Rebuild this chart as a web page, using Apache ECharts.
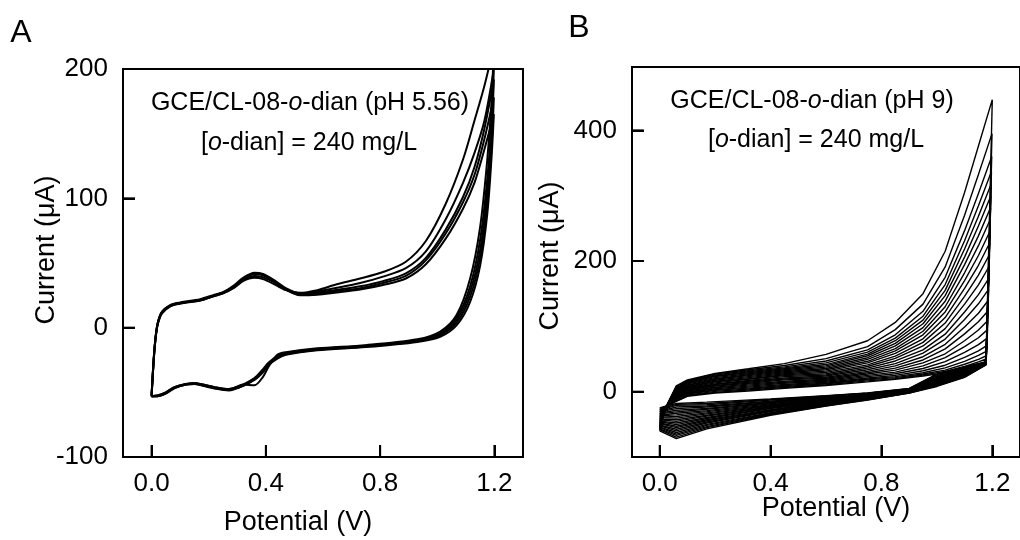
<!DOCTYPE html>
<html><head><meta charset="utf-8">
<script src="https://cdn.jsdelivr.net/npm/echarts@6/dist/echarts.min.js"></script>
<style>html,body{margin:0;padding:0;background:#fff}#c{width:1020px;height:540px}</style>
</head><body><div id="c"></div>
<script>
// ---------- shared tick values ----------
const xTicks = [0, 0.4, 0.8, 1.2];
const aYTicks = [-100, 0, 100, 200];
const bYTicks = [0, 200, 400];

// ---------- Panel A: pH 5.56, five repeated cycles (rows = cycles) ----------
const aFwdV = [0.000, 0.007, 0.013, 0.021, 0.036, 0.065, 0.10, 0.17, 0.22, 0.25, 0.29, 0.32, 0.36, 0.39, 0.43, 0.47, 0.52, 0.58, 0.64, 0.73, 0.81, 0.89, 0.96, 1.03, 1.09, 1.13, 1.165, 1.198];
const aFwdI = [
  [-53, -27, -10, 2, 11, 16.5, 18.5, 21, 24.5, 26.5, 31, 36, 38.5, 37.5, 33.5, 29, 27, 29, 33, 38, 43, 51, 67, 96, 130, 160, 187, 218],
  [-52, -26, -10, 3, 12, 17, 19, 21.5, 25, 27, 32, 37, 40, 39, 35, 29.5, 26.5, 28, 30.5, 34.5, 39.5, 46, 59, 84, 112, 135, 160, 200],
  [-52, -25, -9, 3, 12, 17.5, 19.5, 22, 25.5, 27.5, 33, 38.5, 42.5, 41.5, 36.5, 30.5, 26.5, 27, 29, 32, 36, 42, 54, 76, 101, 124, 154, 192],
  [-53, -27, -11, 2, 11, 16.5, 19, 21, 24.5, 26.5, 31.5, 37, 41.5, 40.5, 35.5, 29.5, 25.5, 26, 28, 30.5, 34.5, 40, 52, 73, 97, 118, 146, 178],
  [-53, -26, -10, 3, 12, 17, 19, 21.5, 25, 27, 32, 37.5, 42, 41, 36, 29.5, 25, 25.5, 27, 29.5, 33, 38, 49, 69, 92, 112, 138, 165]
];
const aRevV = [1.19, 1.175, 1.15, 1.115, 1.068, 1.01, 0.93, 0.75, 0.58, 0.47, 0.44, 0.41, 0.39, 0.36, 0.32, 0.29, 0.27, 0.22, 0.18, 0.15, 0.12, 0.08, 0.05, 0.02, 0.0];
const aRevI = [
  [175, 130, 78, 38, 10, -3, -9, -13.5, -16, -19, -21, -30, -38, -44.5, -44, -46.5, -47.5, -46, -44, -43, -44, -46.5, -50.5, -53, -53],
  [160, 115, 68, 32, 8, -4, -9.5, -14, -16.5, -19.5, -22, -27, -32, -39, -44, -46.5, -47.5, -46, -44, -43, -43.5, -46, -50, -52.5, -53],
  [150, 105, 60, 28, 6, -5, -10, -14, -16.5, -20, -23, -28, -33, -39.5, -44.5, -47, -48, -46.5, -44.5, -43, -43.5, -46, -50, -52.5, -53],
  [140, 96, 54, 24, 4, -6, -10.5, -14.5, -17, -20.5, -23.5, -28.5, -34, -40, -45, -47.5, -48, -46.5, -44.5, -43.5, -44, -46.5, -50.5, -53, -53],
  [132, 88, 48, 20, 2, -7, -11, -15, -17.5, -21, -24, -29, -34.5, -40.5, -45, -47.5, -48.5, -47, -45, -43.5, -44, -47, -51, -53, -53]
];

// ---------- Panel B: pH 9, 24 cycles (each array = one potential, entries = cycles 1..24) ----------
const bFwdV = [0.00, 0.02, 0.06, 0.10, 0.20, 0.32, 0.45, 0.60, 0.75, 0.85, 0.95, 1.03, 1.10, 1.15];
const bStartI = [-60, -58, -57, -55, -54, -52, -51, -49, -48, -46, -45, -43, -42, -40, -39, -37, -36, -34, -33, -31, -30, -28, -27, -25];
const bF002 = [-25, -26, -26, -27, -27, -28, -28, -29, -29, -29, -30, -30, -30, -30, -29, -29, -28, -28, -27, -26, -25, -24, -23, -22];
const bF006 = [9, 8, 7, 6, 5, 4, 3, 2, 1, 0, -1, -2, -3.5, -4.5, -5.5, -6.5, -7.5, -8.5, -9.5, -10.5, -11.5, -13, -14, -15];
const bF010 = [18, 17, 16, 15, 14, 13, 12, 10.5, 9.5, 8, 7, 6, 5, 4, 3, 2, 1, -0.5, -1.5, -2.5, -3.5, -5, -6, -7];
const bF020 = [28, 27, 25.5, 24, 23, 21.5, 20, 19, 17.5, 16, 15, 13.5, 12, 11, 9.5, 8.5, 7, 6, 4.5, 3, 2, 0.5, -1, -2];
const bF032 = [35, 33.5, 32, 30.5, 29, 27.5, 26, 24.5, 23, 21.5, 20, 19, 17, 16, 14.5, 13, 11.5, 10, 8.5, 7, 5.5, 4, 2.5, 1];
const bF045 = [43, 40, 38, 36.5, 35, 33.5, 32, 30.5, 29, 27.5, 26, 24.5, 23, 21, 19.5, 18, 16, 14.5, 13, 11, 9.5, 8, 6.5, 5];
const bF060 = [57, 50.5, 47, 44, 41.5, 39.5, 37.5, 35.5, 33.5, 31.5, 29.5, 27.5, 25.5, 24, 22, 20.5, 19, 17.5, 16, 14.5, 13, 12, 10.5, 9.5];
const bF075 = [78, 69, 64, 60.5, 57.5, 55, 52, 49.5, 46.5, 44, 41, 38.5, 36, 33.5, 31, 29, 27, 25, 23, 21, 19.5, 18, 16.5, 15];
const bF085 = [106, 95, 87, 82, 78, 74, 70, 66, 62.5, 58.5, 54.5, 51, 47, 43, 39.5, 36, 33, 30, 27.5, 25, 23, 21.5, 20, 19];
const bF095 = [150, 134, 123, 115.5, 109.5, 104, 98, 92.5, 87, 81, 75.5, 70, 64, 59, 53.5, 48.5, 44, 39.5, 35.5, 32, 29, 27, 25.5, 24];
const bF103 = [215, 191, 175, 164, 155, 147, 138.5, 130, 122, 113.5, 105, 96.5, 88, 80.5, 72.5, 65.5, 58, 52, 46, 40.5, 36.5, 33, 31, 29];
const bF110 = [305, 270, 246.5, 231, 218.5, 206, 194.5, 182, 170, 158, 146, 134, 122, 110.5, 99, 88.5, 78, 69, 60, 52.5, 46.5, 42, 38.5, 36];
const bF115 = [376, 332.5, 303.5, 284.5, 268.5, 253.5, 238.5, 223.5, 208.5, 193.5, 178.5, 163.5, 148.5, 134.5, 120, 107, 94.5, 82.5, 72, 62.5, 55.5, 49.5, 45.5, 42];
const bTurnV = [1.200, 1.199, 1.198, 1.197, 1.196, 1.195, 1.194, 1.193, 1.192, 1.191, 1.190, 1.189, 1.188, 1.187, 1.186, 1.185, 1.184, 1.183, 1.182, 1.181, 1.180, 1.179, 1.178, 1.177];
const bPeakI = [447, 395, 360, 337, 318, 300, 282, 264, 246, 228, 210, 192, 174, 157, 140, 124, 109, 95, 82, 71, 62, 55, 50, 46];
const bRevV = [1.177, 1.10, 1.00, 0.90, 0.75, 0.60, 0.40, 0.17, 0.06, 0.00];
const bR1177 = [41, 41, 41.5, 42, 42, 42.5, 43, 43, 43.5, 44, 44, 44.5, 45, 45, 45, 45, 45, 45, 45, 45, 45, 45, 45, 45];
const bR110 = [22, 22.5, 23, 24, 24.5, 25, 26, 26.5, 27, 28, 28.5, 29, 30, 30.5, 31, 32, 32.5, 33, 34, 34.5, 35, 36, 37, 38];
const bR100 = [8, 9, 9.5, 10, 11, 11.5, 12, 13, 13.5, 14, 15, 16, 16.5, 17, 18, 19, 19.5, 20.5, 21.5, 22.5, 23.5, 24.5, 26, 27];
const bR090 = [-2, -2, -1.5, -1.5, -1, -1, -0.5, -0.5, 0, 0, 0.5, 0.5, 1, 1.5, 1.5, 2, 2, 2.5, 3, 3, 3.5, 4, 4.5, 5];
const bR075 = [-13, -12.5, -12, -11.5, -11, -10.5, -10, -9.5, -9, -8.5, -8, -7.5, -7, -6.5, -6, -5.5, -5, -4.5, -4, -3.5, -3, -2.5, -2.5, -2];
const bR060 = [-22, -21.5, -20.5, -20, -19, -18.5, -17.5, -17, -16, -15.5, -14.5, -14, -13, -12.5, -11.5, -11, -10, -9.5, -9, -8, -7.5, -7, -6.5, -6];
const bR040 = [-36, -35, -34, -33, -32, -30.5, -29.5, -28.5, -27.5, -26, -25, -24, -23, -22, -21, -20, -18.5, -17.5, -16.5, -15.5, -14.5, -13, -12, -11];
const bR017 = [-57, -55, -53.5, -51.5, -50, -48, -46.5, -44.5, -43, -41, -39.5, -37.5, -36, -34, -32.5, -30.5, -29, -27, -25.5, -23.5, -22, -20, -18, -16];
const bR006 = [-72, -69.5, -67, -65, -62.5, -60, -57.5, -55, -53, -50.5, -48, -45.5, -43, -40.5, -38, -35.5, -33, -31, -28.5, -26, -23.5, -21, -19.5, -18];

// ---------- layout ----------
const FONT = '"Liberation Sans", Arial, Helvetica, sans-serif';
const TICK_PX = 12;
const GRIDS = [
  {left: 123, top: 69, width: 400, height: 388, xMin: -0.1, xMax: 1.3, yMin: -100, yMax: 200, yTicks: aYTicks},
  {left: 632, top: 67, width: 395, height: 390, xMin: -0.1, xMax: 1.3, yMin: -100, yMax: 497, yTicks: bYTicks}
];

// ---------- build ----------
const series = [];
function lineSeries(grid, pts, width, smooth, clip) {
  return {type: 'line', xAxisIndex: grid, yAxisIndex: grid, data: pts, smooth: smooth,
    showSymbol: false, symbol: 'none', silent: true, clip: clip, z: 5,
    lineStyle: {color: '#000', width: width}};
}
aFwdI.forEach((row, k) => {
  const pts = aFwdV.map((v, i) => [v, row[i]]);
  aRevV.forEach((v, i) => pts.push([v, aRevI[k][i]]));
  series.push(lineSeries(0, pts, 2, 0.3, true));
});
const bFwdCols = [bStartI, bF002, bF006, bF010, bF020, bF032, bF045, bF060, bF075, bF085, bF095, bF103, bF110, bF115];
const bRevCols = [bR1177, bR110, bR100, bR090, bR075, bR060, bR040, bR017, bR006, bStartI];
bPeakI.forEach((peak, k) => {
  const pts = bFwdV.map((v, i) => [v, bFwdCols[i][k]]);
  pts.push([bTurnV[k], peak]);
  bRevV.forEach((v, i) => pts.push([v, bRevCols[i][k]]));
  series.push(lineSeries(1, pts, 1.4, false, true));
});

// inward tick marks: short segments at the tick values, 12 px long in each axis' scale
GRIDS.forEach((g, gi) => {
  const dx = TICK_PX * (g.xMax - g.xMin) / g.width;
  const dy = TICK_PX * (g.yMax - g.yMin) / g.height;
  xTicks.forEach(v => series.push(lineSeries(gi, [[v, g.yMin], [v, g.yMin + dy]], 2, false, false)));
  g.yTicks.forEach(v => series.push(lineSeries(gi, [[g.xMin, v], [g.xMin + dx, v]], 2, false, false)));
});

function xAx(gi) {
  const g = GRIDS[gi];
  return {gridIndex: gi, type: 'value', min: g.xMin, max: g.xMax,
    axisLine: {show: false, onZero: false}, splitLine: {show: false},
    axisTick: {show: true, inside: true, length: TICK_PX, lineStyle: {color: '#000', width: 2}, customValues: xTicks},
    axisLabel: {customValues: xTicks, formatter: v => v.toFixed(1), fontSize: 26, color: '#000', fontFamily: FONT, margin: 14}};
}
function yAx(gi) {
  const g = GRIDS[gi];
  return {gridIndex: gi, type: 'value', min: g.yMin, max: g.yMax,
    axisLine: {show: false, onZero: false}, splitLine: {show: false},
    axisTick: {show: true, inside: true, length: TICK_PX, lineStyle: {color: '#000', width: 2}, customValues: g.yTicks},
    axisLabel: {customValues: g.yTicks, fontSize: 26, color: '#000', fontFamily: FONT, margin: 15}};
}
function txt(x, y, text, size, rot) {
  return {type: 'text', x: x, y: y, rotation: rot || 0, silent: true,
    style: {text: text, fontSize: size, fontFamily: FONT, fill: '#000', align: 'center', verticalAlign: 'middle'}};
}
function rich(x, y, text, size) {
  const base = {fontSize: size, fontFamily: FONT, fill: '#000', color: '#000'};
  return {type: 'text', x: x, y: y, silent: true,
    style: {text: text, fontSize: size, fontFamily: FONT, fill: '#000', align: 'center', verticalAlign: 'middle',
      rich: {n: base, i: Object.assign({}, base, {fontStyle: 'italic'})}}};
}

const chart = echarts.init(document.getElementById('c'), null, {renderer: 'canvas'});
chart.setOption({
  animation: false,
  grid: GRIDS.map(g => ({left: g.left, top: g.top, width: g.width, height: g.height,
    show: true, borderColor: '#000', borderWidth: 2})),
  xAxis: [xAx(0), xAx(1)],
  yAxis: [yAx(0), yAx(1)],
  series: series,
  graphic: [
    txt(21, 33, 'A', 32),
    txt(579, 28, 'B', 32),
    txt(47, 250, 'Current (μA)', 27, Math.PI / 2),
    txt(551, 256, 'Current (μA)', 27, Math.PI / 2),
    txt(298, 523, 'Potential (V)', 27),
    txt(836, 509, 'Potential (V)', 27),
    rich(310, 103, '{n|GCE/CL-08-}{i|o}{n|-dian (pH 5.56)}', 25),
    rich(309, 143, '{n|[}{i|o}{n|-dian] = 240 mg/L}', 25),
    rich(812, 101, '{n|GCE/CL-08-}{i|o}{n|-dian (pH 9)}', 25),
    rich(816, 140, '{n|[}{i|o}{n|-dian] = 240 mg/L}', 25)
  ]
});
</script>
</body></html>
